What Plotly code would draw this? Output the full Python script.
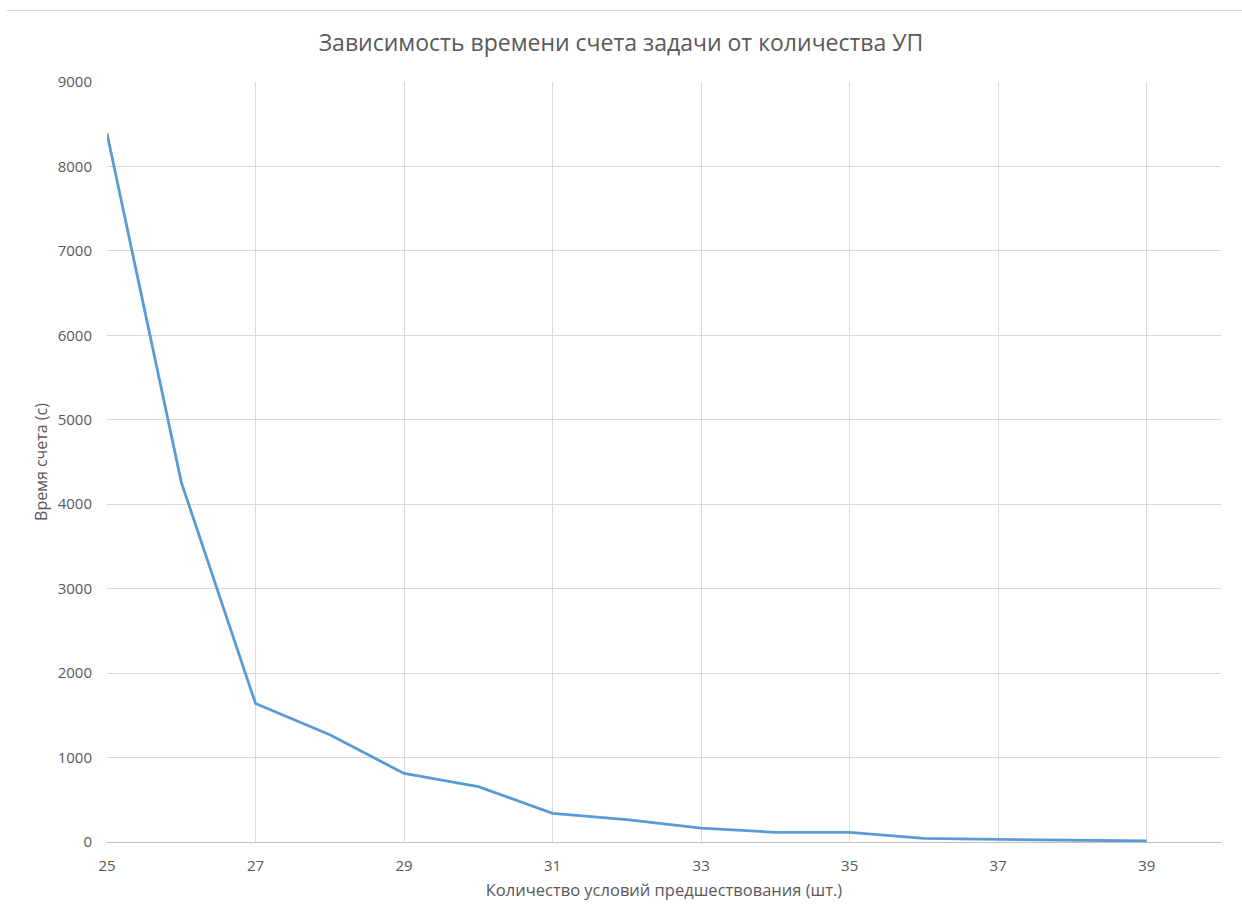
import plotly.graph_objects as go

# Number of precedence conditions vs. computation time
conditions = [25, 26, 27, 28, 29, 30, 31, 32, 33, 34, 35, 36, 37, 38, 39]
time_sec = [8390, 4262, 1640, 1270, 812, 655, 340, 265, 165, 115, 115, 42, 30, 20, 12]

font_family = "Open Sans, Noto Sans, sans-serif"
text_color = "#595959"

fig = go.Figure()
fig.add_trace(go.Scatter(
    x=conditions, y=time_sec, mode="lines",
    line=dict(color="#5b9bd5", width=2.8),
    showlegend=False,
))

fig.update_layout(
    width=1242, height=921,
    margin=dict(l=107, r=21, t=82, b=79),
    paper_bgcolor="white", plot_bgcolor="white",
    font=dict(family=font_family, color=text_color, size=15),
    title=dict(
        text="Зависимость времени счета задачи от количества УП",
        x=0.5, xanchor="center", y=0.953, yanchor="middle",
        font=dict(size=23, color=text_color, family=font_family),
    ),
    xaxis=dict(
        range=[25, 40], tick0=25, dtick=2, tickmode="linear",
        showgrid=True, gridcolor="#d9d9d9", gridwidth=1,
        showline=True, linecolor="#bfbfbf", linewidth=1,
        zeroline=False, ticks="", ticklabelstandoff=10,
        tickfont=dict(size=15),
        title=dict(text="Количество условий предшествования (шт.)", standoff=10,
                   font=dict(size=16.5, color=text_color)),
    ),
    yaxis=dict(
        range=[0, 9000], dtick=1000, tickmode="linear",
        showgrid=True, gridcolor="#d9d9d9", gridwidth=1,
        showline=False, zeroline=False, ticks="", ticklabelstandoff=14,
        tickfont=dict(size=15),
        title=dict(text="Время счета (с)", standoff=6,
                   font=dict(size=16, color=text_color)),
    ),
    shapes=[dict(type="line", xref="paper", yref="paper",
                 x0=-0.09, x1=1.02, y0=1.094, y1=1.094,
                 line=dict(color="#d9d9d9", width=1))],
)

fig.write_html("out.html")
